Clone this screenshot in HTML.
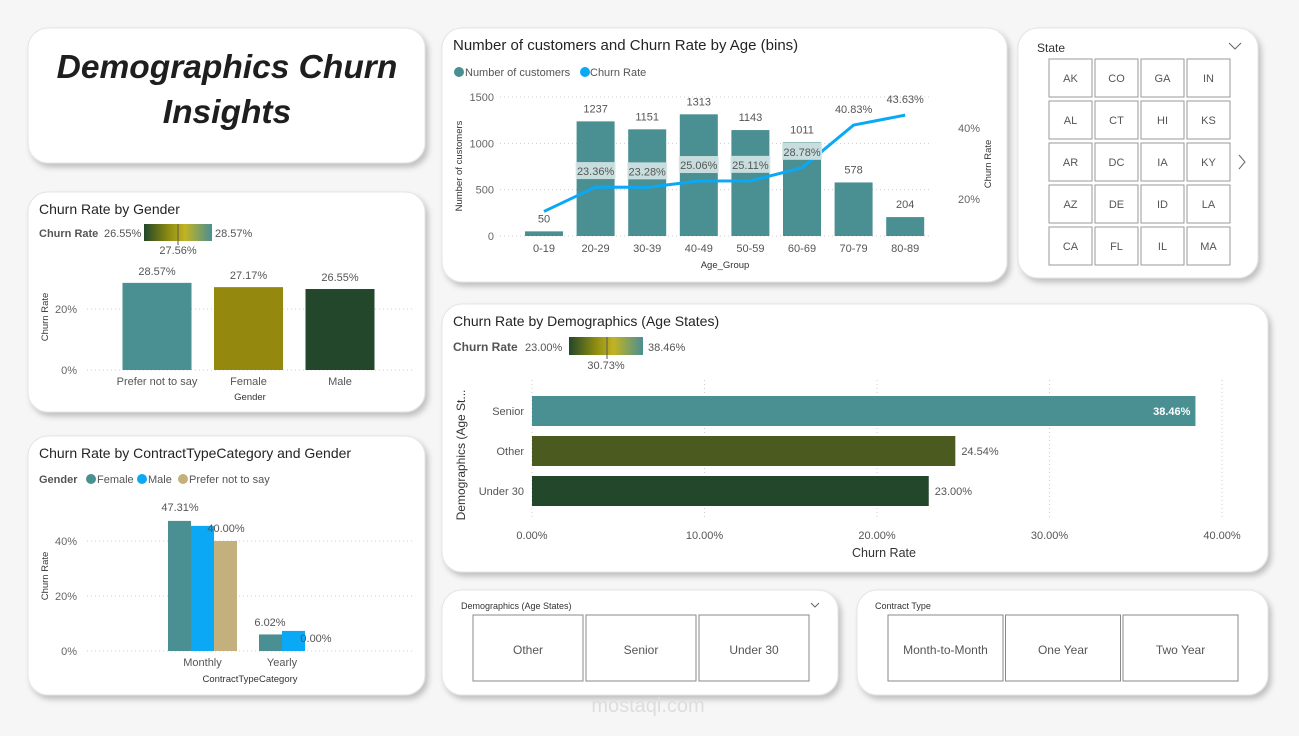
<!DOCTYPE html>
<html><head><meta charset="utf-8">
<style>
html,body{margin:0;padding:0;background:#f6f6f6;}
body{width:1299px;height:731px;overflow:hidden;font-family:"Liberation Sans","DejaVu Sans",sans-serif;}
svg text{font-family:"Liberation Sans","DejaVu Sans",sans-serif;}
</style></head>
<body>
<svg id="dash" width="1299" height="731" viewBox="0 0 1299 731" xmlns="http://www.w3.org/2000/svg">
<defs>
<filter id="sh" x="-10%" y="-10%" width="125%" height="130%"><feDropShadow dx="3" dy="4" stdDeviation="3" flood-color="#000" flood-opacity="0.22"/></filter>
<linearGradient id="grad" x1="0" x2="1" y1="0" y2="0">
<stop offset="0" stop-color="#23472a"/><stop offset="0.35" stop-color="#8a8a12"/><stop offset="0.6" stop-color="#c2b323"/><stop offset="1" stop-color="#4a8f92"/></linearGradient>
</defs>
<rect width="1299" height="731" fill="#f6f6f6"/>
<g id="cards"></g>
<g>
<text x="227" y="78" text-anchor="middle" font-size="33.5" font-weight="bold" font-style="italic" fill="#1e1e1e">Demographics Churn</text>
<text x="227" y="123" text-anchor="middle" font-size="33.5" font-weight="bold" font-style="italic" fill="#1e1e1e">Insights</text>
</g>
<g id="age"></g>
<g id="gender"></g>
<g id="contract"></g>
<g id="demo"></g>
<g id="state"></g>
<g id="slicers"></g>
</svg>
<script>
// ---- data ----
const ageGroups=["0-19","20-29","30-39","40-49","50-59","60-69","70-79","80-89"];
const ageCustomers=[50,1237,1151,1313,1143,1011,578,204];
const ageChurn=[16.5,23.36,23.28,25.06,25.11,28.78,40.83,43.63];
const ageChurnLabels=["","23.36%","23.28%","25.06%","25.11%","28.78%","40.83%","43.63%"];
const genderCats=["Prefer not to say","Female","Male"];
const genderChurn=[28.57,27.17,26.55];
const contractCats=["Monthly","Yearly"];
const contractFemale=[47.31,6.02];
const contractMale=[45.5,7.3];
const contractPrefer=[40.0,null];
const demoCats=["Senior","Other","Under 30"];
const demoChurn=[38.46,24.54,23.00];
const states=["AK","CO","GA","IN","AL","CT","HI","KS","AR","DC","IA","KY","AZ","DE","ID","LA","CA","FL","IL","MA"];

const NS="http://www.w3.org/2000/svg";
function el(parent,tag,attrs,text){const e=document.createElementNS(NS,tag);for(const k in attrs)e.setAttribute(k,attrs[k]);if(text!==undefined)e.textContent=text;parent.appendChild(e);return e;}

// cards
const cards=document.getElementById('cards');
[[28,28,397,135,'title-card-bg'],[28,192,397,220,'gender-card'],[28,436,397,259,'contract-card'],[442,28,565,254,'age-card'],[1018,28,240,250,'state-card'],[442,304,826,268,'demographics-card'],[442,590,396,105,'demographics-slicer-card'],[857,590,411,105,'contract-slicer-card']].forEach(c=>{
 const r=el(cards,'rect',{x:c[0],y:c[1],width:c[2],height:c[3],rx:20,fill:'#fff',stroke:'#e4e4e4',filter:'url(#sh)'});
 
 
});

// ---- Age chart ----
(function(){
 const g=document.getElementById('age');
 el(g,'text',{x:453,y:50,'font-size':15,fill:'#252423'},'Number of customers and Churn Rate by Age (bins)');
 const l1=el(g,'circle',{cx:459,cy:72,r:5,fill:'#4a8f92'});
 
 el(g,'text',{x:465,y:76,'font-size':11,fill:'#555'},'Number of customers');
 const l2=el(g,'circle',{cx:585,cy:72,r:5,fill:'#0aa8f5'});
 
 el(g,'text',{x:590,y:76,'font-size':11,fill:'#555'},'Churn Rate');
 const y=v=>236-v*(139/1500);
 const yr=p=>270-p*3.55;
 const x=i=>544+i*51.6;
 [0,500,1000,1500].forEach(t=>{
  el(g,'line',{x1:500,x2:930,y1:y(t),y2:y(t),stroke:'#ccc','stroke-dasharray':'1,3'});
  el(g,'text',{x:494,y:y(t)+4,'text-anchor':'end','font-size':11,fill:'#666'},t);
 });
 [20,40].forEach(t=>el(g,'text',{x:958,y:yr(t)+4,'font-size':11,fill:'#666'},t+'%'));
 el(g,'text',{transform:'translate(462,166) rotate(-90)','text-anchor':'middle','font-size':9.5,fill:'#333'},'Number of customers');
 el(g,'text',{transform:'translate(991,164) rotate(-90)','text-anchor':'middle','font-size':9.5,fill:'#333'},'Churn Rate');
 el(g,'text',{x:725,y:268,'text-anchor':'middle','font-size':9.5,fill:'#333'},'Age_Group');
 ageGroups.forEach((a,i)=>{
  const b=el(g,'rect',{x:x(i)-19,y:y(ageCustomers[i]),width:38,height:236-y(ageCustomers[i]),fill:'#4a8f92'});
  
  el(g,'text',{x:x(i),y:y(ageCustomers[i])-9,'text-anchor':'middle','font-size':11,fill:'#555'},ageCustomers[i]);
  el(g,'text',{x:x(i),y:252,'text-anchor':'middle','font-size':11,fill:'#555'},a);
 });
 const pts=ageChurn.map((p,i)=>x(i)+','+yr(p)).join(' ');
 const pl=el(g,'polyline',{points:pts,fill:'none',stroke:'#0aa8f5','stroke-width':3,'stroke-linejoin':'round'});
 
 ageChurnLabels.forEach((lb,i)=>{
  if(!lb)return;
  const py=yr(ageChurn[i])-16;
  if(i<6){el(g,'rect',{x:x(i)-20,y:py-9,width:40,height:17,fill:'#d6e6e6','fill-opacity':0.9});}
  el(g,'text',{x:x(i),y:py+4,'text-anchor':'middle','font-size':11,fill:'#555'},lb);
 });
})();

// ---- Gender chart ----
(function(){
 const g=document.getElementById('gender');
 el(g,'text',{x:39,y:214,'font-size':14,fill:'#252423'},'Churn Rate by Gender');
 el(g,'text',{x:39,y:237,'font-size':11,'font-weight':'bold',fill:'#555'},'Churn Rate');
 el(g,'text',{x:104,y:237,'font-size':11,fill:'#555'},'26.55%');
 el(g,'rect',{x:144,y:224,width:68,height:17,fill:'url(#grad)'});
 el(g,'line',{x1:178,x2:178,y1:224,y2:245,stroke:'#555'});
 el(g,'text',{x:215,y:237,'font-size':11,fill:'#555'},'28.57%');
 el(g,'text',{x:178,y:254,'text-anchor':'middle','font-size':11,fill:'#555'},'27.56%');
 const y=p=>370-p*3.05; const cols=['#4a8f92','#94880e','#23472a'];
 [0,20].forEach(t=>{el(g,'line',{x1:87,x2:412,y1:y(t),y2:y(t),stroke:'#ccc','stroke-dasharray':'1,3'});
  el(g,'text',{x:77,y:y(t)+4,'text-anchor':'end','font-size':11,fill:'#666'},t+'%');});
 el(g,'text',{transform:'translate(48,317) rotate(-90)','text-anchor':'middle','font-size':9.5,fill:'#333'},'Churn Rate');
 genderCats.forEach((c,i)=>{const cx=157+i*91.5;
  const b=el(g,'rect',{x:cx-34.5,y:y(genderChurn[i]),width:69,height:370-y(genderChurn[i]),fill:cols[i]});
  
  el(g,'text',{x:cx,y:y(genderChurn[i])-8,'text-anchor':'middle','font-size':11,fill:'#555'},genderChurn[i].toFixed(2)+'%');
  el(g,'text',{x:cx,y:385,'text-anchor':'middle','font-size':11,fill:'#555'},c);});
 el(g,'text',{x:250,y:400,'text-anchor':'middle','font-size':9.5,fill:'#333'},'Gender');
})();

// ---- Contract chart ----
(function(){
 const g=document.getElementById('contract');
 el(g,'text',{x:39,y:458,'font-size':14,fill:'#252423'},'Churn Rate by ContractTypeCategory and Gender');
 el(g,'text',{x:39,y:483,'font-size':11,'font-weight':'bold',fill:'#555'},'Gender');
 [['#4a8f92','Female',91],['#0aa8f5','Male',142],['#c4b07d','Prefer not to say',183]].forEach(l=>{
  el(g,'circle',{cx:l[2],cy:479,r:5,fill:l[0]});el(g,'text',{x:l[2]+6,y:483,'font-size':11,fill:'#555'},l[1]);});
 const y=p=>651-p*2.75;
 [0,20,40].forEach(t=>{el(g,'line',{x1:87,x2:412,y1:y(t),y2:y(t),stroke:'#ccc','stroke-dasharray':'1,3'});
  el(g,'text',{x:77,y:y(t)+4,'text-anchor':'end','font-size':11,fill:'#666'},t+'%');});
 el(g,'text',{transform:'translate(48,576) rotate(-90)','text-anchor':'middle','font-size':9.5,fill:'#333'},'Churn Rate');
 const series=[[contractFemale,'#4a8f92'],[contractMale,'#0aa8f5'],[contractPrefer,'#c4b07d']];
 contractCats.forEach((c,ci)=>{const gx=[168,259][ci];
  series.forEach((s,si)=>{const v=s[0][ci]; if(v===null)return;
   const b=el(g,'rect',{x:gx+si*23,y:y(v),width:23,height:651-y(v),fill:s[1]});
   });
  el(g,'text',{x:gx+(ci?23:34.5),y:666,'text-anchor':'middle','font-size':11,fill:'#555'},c);});
 el(g,'text',{x:180,y:511,'text-anchor':'middle','font-size':11,fill:'#555'},contractFemale[0].toFixed(2)+'%');
 el(g,'text',{x:226,y:532,'text-anchor':'middle','font-size':11,fill:'#555'},contractPrefer[0].toFixed(2)+'%');
 el(g,'text',{x:270,y:626,'text-anchor':'middle','font-size':11,fill:'#555'},contractFemale[1].toFixed(2)+'%');
 el(g,'text',{x:316,y:642,'text-anchor':'middle','font-size':11,fill:'#555'},'0.00%');
 el(g,'text',{x:250,y:682,'text-anchor':'middle','font-size':9.5,fill:'#333'},'ContractTypeCategory');
})();

// ---- Demographics chart ----
(function(){
 const g=document.getElementById('demo');
 el(g,'text',{x:453,y:326,'font-size':14,fill:'#252423'},'Churn Rate by Demographics (Age States)');
 el(g,'text',{x:453,y:351,'font-size':12,'font-weight':'bold',fill:'#555'},'Churn Rate');
 el(g,'text',{x:525,y:351,'font-size':11,fill:'#555'},'23.00%');
 el(g,'rect',{x:569,y:337,width:74,height:18,fill:'url(#grad)'});
 el(g,'line',{x1:607,x2:607,y1:337,y2:359,stroke:'#555'});
 el(g,'text',{x:648,y:351,'font-size':11,fill:'#555'},'38.46%');
 el(g,'text',{x:606,y:369,'text-anchor':'middle','font-size':11,fill:'#555'},'30.73%');
 const x=p=>532+p*17.25; const cols=['#4a8f92','#4b5a1e','#23472a'];
 [0,10,20,30,40].forEach(t=>{el(g,'line',{x1:x(t),x2:x(t),y1:380,y2:518,stroke:'#ccc','stroke-dasharray':'1,3'});
  el(g,'text',{x:x(t),y:539,'text-anchor':'middle','font-size':11,fill:'#555'},t.toFixed(2)+'%');});
 el(g,'text',{x:884,y:557,'text-anchor':'middle','font-size':12.5,fill:'#333'},'Churn Rate');
 el(g,'text',{transform:'translate(465,455) rotate(-90)','text-anchor':'middle','font-size':12,fill:'#333'},'Demographics (Age St...');
 demoCats.forEach((c,i)=>{const by=396+i*40;
  const b=el(g,'rect',{x:532,y:by,width:x(demoChurn[i])-532,height:30,fill:cols[i]});
  
  el(g,'text',{x:524,y:by+19,'text-anchor':'end','font-size':11,fill:'#555'},c);
  if(i===0)el(g,'text',{x:x(demoChurn[i])-5,y:by+19,'text-anchor':'end','font-size':11,'font-weight':'bold',fill:'#fff'},demoChurn[i].toFixed(2)+'%');
  else el(g,'text',{x:x(demoChurn[i])+6,y:by+19,'font-size':11,fill:'#555'},demoChurn[i].toFixed(2)+'%');});
})();

// ---- State slicer ----
(function(){
 const g=document.getElementById('state');
 el(g,'text',{x:1037,y:52,'font-size':12,fill:'#333'},'State');
 el(g,'polyline',{points:'1229,43 1235,49 1241,43',fill:'none',stroke:'#666'});
 el(g,'polyline',{points:'1239,155 1245,162 1239,169',fill:'none',stroke:'#666'});
 states.forEach((s,i)=>{const cx=1049+(i%4)*46,cy=59+Math.floor(i/4)*42;
  const r=el(g,'rect',{x:cx,y:cy,width:43,height:38,fill:'#fff',stroke:'#999'});
  
  el(g,'text',{x:cx+21.5,y:cy+23,'text-anchor':'middle','font-size':11,fill:'#555'},s);});
})();

// ---- bottom slicers ----
(function(){
 const g=document.getElementById('slicers');
 el(g,'text',{x:461,y:609,'font-size':9,fill:'#333'},'Demographics (Age States)');
 el(g,'polyline',{points:'811,603 815,607 819,603',fill:'none',stroke:'#666'});
 ['Other','Senior','Under 30'].forEach((s,i)=>{const bx=473+i*113;
  const r=el(g,'rect',{x:bx,y:615,width:110,height:66,fill:'#fff',stroke:'#888'});
  
  el(g,'text',{x:bx+55,y:654,'text-anchor':'middle','font-size':12,fill:'#555'},s);});
 el(g,'text',{x:875,y:609,'font-size':9,fill:'#333'},'Contract Type');
 ['Month-to-Month','One Year','Two Year'].forEach((s,i)=>{const bx=888+i*117.5;
  const r=el(g,'rect',{x:bx,y:615,width:115,height:66,fill:'#fff',stroke:'#888'});
  
  el(g,'text',{x:bx+57.5,y:654,'text-anchor':'middle','font-size':12,fill:'#555'},s);});
 el(g,'text',{x:648,y:712,'text-anchor':'middle','font-size':20,fill:'#ddd'},'mostaql.com');
})();
</script>
</body></html>
